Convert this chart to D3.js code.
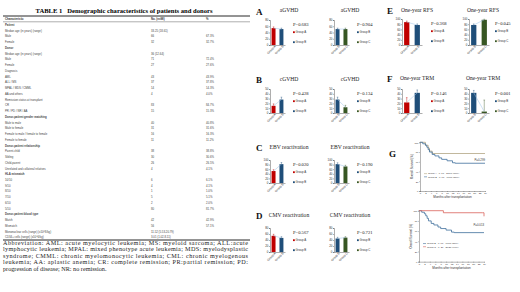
<!DOCTYPE html>
<html>
<head>
<meta charset="utf-8">
<script src="https://cdn.jsdelivr.net/npm/d3@7"></script>
<style>
  body { margin: 0; background: #fff; }
  svg { display: block; }
</style>
</head>
<body>
<div id="chart"></div>
<script>
// ---- table 1 ----
const tableTitle = "TABLE 1   Demographic characteristics of patients and donors";
const tableHeader = ["Characteristic", "No. (n=98)", "%"];
const rowLabels = [
  "Patient", "Median age (in years) (range)", "Male", "Female",
  "Donor", "Median age (in years) (range)", "Male", "Female",
  "Diagnosis", "AML", "ALL / MS", "MPAL / MDS / CMML", "AA and others",
  "Remission status at transplant", "CR", "PR / PD / NR / AA",
  "Donor-patient gender matching", "Male to male", "Male to female",
  "Female to male / female to female", "Female to female",
  "Donor-patient relationship", "Parent-child", "Sibling", "Child-parent",
  "Unrelated and collateral relatives",
  "HLA mismatch", "10/10", "9/10", "8/10", "7/10", "6/10", "5/10",
  "Donor-patient blood type", "Match", "Mismatch",
  "Mononuclear cells (range) (x10^8/kg)", "CD34+ cells (range) (x10^6/kg)"
];
const rowCounts = [
  "", "33.25 (18-61)", "66", "32",
  "", "36 (12-64)", "71", "27",
  "", "43", "37", "14", "4",
  "", "83", "15",
  "", "40", "31", "16", "11",
  "", "38", "30", "26", "4",
  "", "6", "4", "1", "5", "2", "80",
  "", "42", "56",
  "11.52 (5.53-20.79)", "3.01 (1.02-8.11)"
];
const rowPercents = [
  "", "", "67.3%", "32.7%",
  "", "", "72.4%", "27.6%",
  "", "43.9%", "37.8%", "14.3%", "4.0%",
  "", "84.7%", "15.3%",
  "", "40.8%", "31.6%", "16.3%", "11.2%",
  "", "38.8%", "30.6%", "26.5%", "4.1%",
  "", "6.1%", "4.1%", "1.0%", "5.1%", "2.0%", "81.7%",
  "", "42.9%", "57.1%",
  "", ""
];
const boldRows = [0, 4, 16, 21, 26, 33];
const noteLines = [
  "Abbreviation: AML: acute myelocytic leukemia; MS: myeloid sarcoma; ALL:acute",
  "lymphocytic leukemia; MPAL: mixed phenotype acute leukemia; MDS: myelodysplastic",
  "syndrome; CMML: chronic myelomonocytic leukemia; CML: chronic myelogenous",
  "leukemia; AA: aplastic anemia; CR: complete remission; PR:partial remission; PD:",
  "progression of disease; NR: no remission."
];

// ---- bar panels ----
const groupsAB = ["Group A", "Group B"];
const groupsBC = ["Group B", "Group C"];
const aGVHD_AB = [54, 51], aGVHD_BC = [51, 51];
const aGVHD_errAB = [4, 3], aGVHD_errBC = [3, 3];
const cGVHD_AB = [15, 28], cGVHD_BC = [28, 12];
const cGVHD_errAB = [4, 5], cGVHD_errBC = [5, 4];
const ebv_AB = [52, 82], ebv_BC = [82, 72];
const ebv_errAB = [6, 7], ebv_errBC = [6, 5];
const cmv_AB = [54, 47], cmv_BC = [45, 48];
const cmv_errAB = [5, 4], cmv_errBC = [4, 3];
const rfs_AB = [88, 77], rfs_BC = [77, 97];
const rfs_errAB = [4, 4], rfs_errBC = [4, 2];
const trm_AB = [22, 42], trm_BC = [42, 3];
const trm_errAB = [10, 6], trm_errBC = [5, 24];
const pValues = {
  aGVHD: ["P=0.683", "P=0.904"], cGVHD: ["P=0.428", "P=0.134"],
  ebv: ["P=0.020", "P=0.190"], cmv: ["P=0.567", "P=0.721"],
  rfs: ["P=0.368", "P=0.045"], trm: ["P=0.146", "P=0.001"]
};

// ---- survival curves (months, %) ----
const kmMonths = [0, 2, 4, 6, 8, 10, 12, 14, 16, 18, 20, 22, 24];
const kmA_t = [0, 2, 3, 3.5, 4.5, 24];
const kmA_s = [100, 94, 88, 82, 77, 77];
const kmB_t = [0, 1, 2, 2.5, 3, 3.5, 4.5, 5.5, 7, 8, 10, 12, 13, 24];
const kmB_s = [100, 97, 94, 90, 85, 80, 75, 72, 68, 65, 62, 58, 57, 57];
const kmC_t = [0, 9, 23.5, 24];
const kmC_s = [100, 96, 96, 89];
const kmLegend1 = ["Group A   n=17   13/17 (76%)", "Group B   n=81   46/81 (57%)"];
const kmLegend2 = ["Group B   n=81   46/81 (57%)", "Group C   n=27   26/27 (96%)"];

const RED = "#c00000", BLUE = "#1f4e79", GREEN = "#375623", TAN = "#b3a684", SALMON = "#d9625a";

const svg = d3.select("#chart").append("svg")
  .attr("width", 520).attr("height", 292)
  .style("font-family", "'Liberation Sans', Arial, sans-serif");

// ===== table =====
const tbl = svg.append("g");
tbl.append("text").attr("x", 124).attr("y", 13).attr("text-anchor", "middle")
  .style("font-family", "'Liberation Serif', serif").style("font-weight", "bold")
  .style("font-size", "6.6px").attr("xml:space", "preserve").text(tableTitle);
tbl.append("line").attr("x1", 3).attr("x2", 250).attr("y1", 16).attr("y2", 16)
  .attr("stroke", "#111").attr("stroke-width", 0.9);
tbl.append("line").attr("x1", 3).attr("x2", 250).attr("y1", 21.8).attr("y2", 21.8)
  .attr("stroke", "#333").attr("stroke-width", 0.4);
const colX = [5, 151, 206];
tableHeader.forEach((h, i) => {
  tbl.append("text").attr("x", colX[i]).attr("y", 20).style("font-size", "2.8px")
    .style("font-weight", "bold").attr("fill", "#333").text(h);
});
rowLabels.forEach((lab, i) => {
  const y = 26 + i * 5.74;
  const bold = boldRows.includes(i);
  tbl.append("text").attr("x", colX[0]).attr("y", y).style("font-size", "2.8px")
    .style("font-weight", bold ? "bold" : "normal").attr("fill", "#444").text(lab);
  tbl.append("text").attr("x", colX[1]).attr("y", y).style("font-size", "2.8px")
    .attr("fill", "#444").text(rowCounts[i]);
  tbl.append("text").attr("x", colX[2]).attr("y", y).style("font-size", "2.8px")
    .attr("fill", "#444").text(rowPercents[i]);
});
tbl.append("line").attr("x1", 3).attr("x2", 250).attr("y1", 240).attr("y2", 240)
  .attr("stroke", "#111").attr("stroke-width", 0.9);
noteLines.forEach((t, i) => {
  const tx = tbl.append("text").attr("x", 3).attr("y", 245 + i * 6.4)
    .style("font-family", "'Liberation Serif', serif").style("font-size", "6.2px")
    .attr("fill", "#222").text(t);
  if (i < noteLines.length - 1) tx.attr("textLength", 245).attr("lengthAdjust", "spacing");
});

// ===== bar panels =====
function panelTitle(x, y, t) {
  svg.append("text").attr("x", x).attr("y", y).attr("text-anchor", "middle")
    .style("font-family", "'Liberation Serif', serif").style("font-size", "5.6px")
    .attr("fill", "#222").text(t);
}
function panelLetter(x, y, t) {
  svg.append("text").attr("x", x).attr("y", y)
    .style("font-family", "'Liberation Serif', serif").style("font-weight", "bold")
    .style("font-size", "9px").attr("fill", "#111").text(t);
}

function barChart({ axisX, top, bottom, max, step, width, groups, values, errs, colors, p, pdx }) {
  const g = svg.append("g");
  const y = d3.scaleLinear().domain([0, max]).range([bottom, top]);
  const x = d3.scaleBand().domain(groups).range([axisX, axisX + width])
    .paddingInner(0.5).paddingOuter(0.2);

  const ya = g.append("g").attr("transform", `translate(${axisX},0)`)
    .call(d3.axisLeft(y).tickValues(d3.range(0, max + 1, step)).tickSize(1).tickPadding(0.6));
  ya.selectAll("text").style("font-size", "2.9px").attr("fill", "#333");
  ya.selectAll("line, path").attr("stroke", "#333").attr("stroke-width", 0.4);

  const xa = g.append("g").attr("transform", `translate(0,${bottom})`)
    .call(d3.axisBottom(x).tickSize(0).tickPadding(1.5));
  xa.select("path").attr("stroke", "#333").attr("stroke-width", 0.4);
  xa.selectAll("text").style("font-size", "3px").attr("fill", "#333")
    .attr("text-anchor", "end").attr("dy", "0.2em")
    .attr("transform", "translate(1,0) rotate(-45)");

  const data = groups.map((k, i) => ({ k, v: values[i], e: errs[i], c: colors[i] }));
  g.selectAll("rect.bar").data(data).enter().append("rect").attr("class", "bar")
    .attr("x", d => x(d.k)).attr("width", x.bandwidth())
    .attr("y", d => y(d.v)).attr("height", d => y(0) - y(d.v)).attr("fill", d => d.c);
  // error bars
  data.forEach(d => {
    const cx = x(d.k) + x.bandwidth() / 2;
    g.append("line").attr("x1", cx).attr("x2", cx).attr("y1", y(d.v)).attr("y2", y(d.v + d.e))
      .attr("stroke", d.c).attr("stroke-width", 0.4);
    g.append("line").attr("x1", cx - 0.8).attr("x2", cx + 0.8).attr("y1", y(d.v + d.e)).attr("y2", y(d.v + d.e))
      .attr("stroke", d.c).attr("stroke-width", 0.4);
  });
  // trend connector
  g.append("line")
    .attr("x1", x(groups[0]) + x.bandwidth() / 2).attr("y1", y(values[0]))
    .attr("x2", x(groups[1]) + x.bandwidth() / 2).attr("y2", y(values[1]))
    .attr("stroke", "#9dc3e6").attr("stroke-width", 0.5);

  const px = axisX + pdx;
  g.append("text").attr("x", px).attr("y", top + 6)
    .style("font-family", "'Liberation Serif', serif").style("font-size", "4.6px")
    .attr("fill", "#222").text(p);
  data.forEach((d, i) => {
    const ly = top + 13 + i * 10;
    g.append("rect").attr("x", px).attr("y", ly - 1.7).attr("width", 1.8).attr("height", 1.8).attr("fill", d.c);
    g.append("text").attr("x", px + 2.5).attr("y", ly).style("font-size", "2.9px")
      .attr("fill", "#333").text(d.k);
  });
}

const rowsY = { A: [20, 45], B: [89, 113], C: [160, 183], D: [228, 252] };
const col1 = [270, 334], col2 = [402, 469];

panelLetter(256, 15, "A"); panelTitle(289, 12, "aGVHD"); panelTitle(350, 12, "aGVHD");
barChart({ axisX: col1[0], top: 20, bottom: 45, max: 80, step: 20, width: 15, groups: groupsAB,
  values: aGVHD_AB, errs: aGVHD_errAB, colors: [RED, BLUE], p: pValues.aGVHD[0], pdx: 23 });
barChart({ axisX: col1[1], top: 20, bottom: 45, max: 80, step: 20, width: 15, groups: groupsBC,
  values: aGVHD_BC, errs: aGVHD_errBC, colors: [BLUE, GREEN], p: pValues.aGVHD[1], pdx: 23 });

panelLetter(256, 83, "B"); panelTitle(289, 81, "cGVHD"); panelTitle(350, 81, "cGVHD");
barChart({ axisX: col1[0], top: 89, bottom: 113, max: 50, step: 10, width: 15, groups: groupsAB,
  values: cGVHD_AB, errs: cGVHD_errAB, colors: [RED, BLUE], p: pValues.cGVHD[0], pdx: 23 });
barChart({ axisX: col1[1], top: 89, bottom: 113, max: 50, step: 10, width: 15, groups: groupsBC,
  values: cGVHD_BC, errs: cGVHD_errBC, colors: [BLUE, GREEN], p: pValues.cGVHD[1], pdx: 23 });

panelLetter(256, 151, "C"); panelTitle(289, 149, "EBV reactivation"); panelTitle(350, 149, "EBV reactivation");
barChart({ axisX: col1[0], top: 160, bottom: 183, max: 100, step: 20, width: 15, groups: groupsAB,
  values: ebv_AB, errs: ebv_errAB, colors: [RED, BLUE], p: pValues.ebv[0], pdx: 23 });
barChart({ axisX: col1[1], top: 160, bottom: 183, max: 100, step: 20, width: 15, groups: groupsBC,
  values: ebv_BC, errs: ebv_errBC, colors: [BLUE, GREEN], p: pValues.ebv[1], pdx: 23 });

panelLetter(256, 219, "D"); panelTitle(289, 217, "CMV reactivation"); panelTitle(350, 217, "CMV reactivation");
barChart({ axisX: col1[0], top: 228, bottom: 252, max: 80, step: 20, width: 15, groups: groupsAB,
  values: cmv_AB, errs: cmv_errAB, colors: [RED, BLUE], p: pValues.cmv[0], pdx: 23 });
barChart({ axisX: col1[1], top: 228, bottom: 252, max: 80, step: 20, width: 15, groups: groupsBC,
  values: cmv_BC, errs: cmv_errBC, colors: [BLUE, GREEN], p: pValues.cmv[1], pdx: 23 });

panelLetter(387, 14, "E"); panelTitle(417, 12, "One-year RFS"); panelTitle(483, 12, "One-year RFS");
barChart({ axisX: col2[0], top: 19, bottom: 45, max: 100, step: 20, width: 20, groups: groupsAB,
  values: rfs_AB, errs: rfs_errAB, colors: [RED, BLUE], p: pValues.rfs[0], pdx: 29 });
barChart({ axisX: col2[1], top: 19, bottom: 45, max: 100, step: 20, width: 20, groups: groupsBC,
  values: rfs_BC, errs: rfs_errBC, colors: [BLUE, GREEN], p: pValues.rfs[1], pdx: 26 });

panelLetter(387, 82, "F"); panelTitle(417, 80, "One-year TRM"); panelTitle(483, 80, "One-year TRM");
barChart({ axisX: col2[0], top: 89, bottom: 113, max: 50, step: 10, width: 20, groups: groupsAB,
  values: trm_AB, errs: trm_errAB, colors: [RED, BLUE], p: pValues.trm[0], pdx: 29 });
barChart({ axisX: col2[1], top: 89, bottom: 113, max: 50, step: 10, width: 20, groups: groupsBC,
  values: trm_BC, errs: trm_errBC, colors: [BLUE, GREEN], p: pValues.trm[1], pdx: 26 });

// ===== survival =====
function km({ x0, x1, yTop, yBot, series, legend, p, pY }) {
  const g = svg.append("g");
  const x = d3.scaleLinear().domain([0, 24]).range([x0, x1]);
  const y = d3.scaleLinear().domain([0, 100]).range([yBot, yTop]);
  const xa = g.append("g").attr("transform", `translate(0,${yBot})`)
    .call(d3.axisBottom(x).tickValues(kmMonths).tickSize(0.8).tickPadding(0.8));
  const ya = g.append("g").attr("transform", `translate(${x0},0)`)
    .call(d3.axisLeft(y).tickValues([0, 20, 40, 60, 80, 100]).tickSize(0.8).tickPadding(0.8));
  [xa, ya].forEach(a => {
    a.selectAll("text").style("font-size", "2.4px").attr("fill", "#333");
    a.selectAll("line, path").attr("stroke", "#444").attr("stroke-width", 0.4);
  });
  g.append("text").attr("x", (x0 + x1) / 2).attr("y", yBot + 7).attr("text-anchor", "middle")
    .style("font-size", "3.1px").attr("fill", "#333").text("Months after transplantation");
  g.append("text").attr("transform", `translate(${x0 - 7},${(yTop + yBot) / 2}) rotate(-90)`)
    .attr("text-anchor", "middle").style("font-size", "2.8px").attr("fill", "#333")
    .text("Overall Survival (%)");
  const line = d3.line().x(d => x(d[0])).y(d => y(d[1])).curve(d3.curveStepAfter);
  series.forEach(s => {
    g.append("path").datum(s.t.map((t, i) => [t, s.s[i]])).attr("d", line)
      .attr("fill", "none").attr("stroke", s.c).attr("stroke-width", 0.8);
  });
  g.append("text").attr("x", x1).attr("y", pY).attr("text-anchor", "end")
    .style("font-size", "2.8px").attr("fill", "#333").text(p);
  legend.forEach((t, i) => {
    const ly = yTop + (yBot - yTop) * 0.66 + i * 3.2;
    g.append("line").attr("x1", x0 + 4).attr("x2", x0 + 7).attr("y1", ly - 0.8).attr("y2", ly - 0.8)
      .attr("stroke", series[i].c).attr("stroke-width", 0.6);
    g.append("text").attr("x", x0 + 8).attr("y", ly).style("font-size", "2.4px")
      .attr("fill", "#333").attr("xml:space", "preserve").text(t);
  });
}

panelLetter(389, 157, "G");
km({ x0: 420, x1: 485, yTop: 142.3, yBot: 191,
  series: [{ t: kmA_t, s: kmA_s, c: TAN }, { t: kmB_t, s: kmB_s, c: "#3f6f9c" }],
  legend: kmLegend1, p: "P=0.299", pY: 161 });
km({ x0: 419, x1: 484, yTop: 210.7, yBot: 261.7,
  series: [{ t: kmB_t, s: kmB_s, c: "#3f6f9c" }, { t: kmC_t, s: kmC_s, c: SALMON }],
  legend: kmLegend2, p: "P=0.013", pY: 226 });
</script>
</body>
</html>
